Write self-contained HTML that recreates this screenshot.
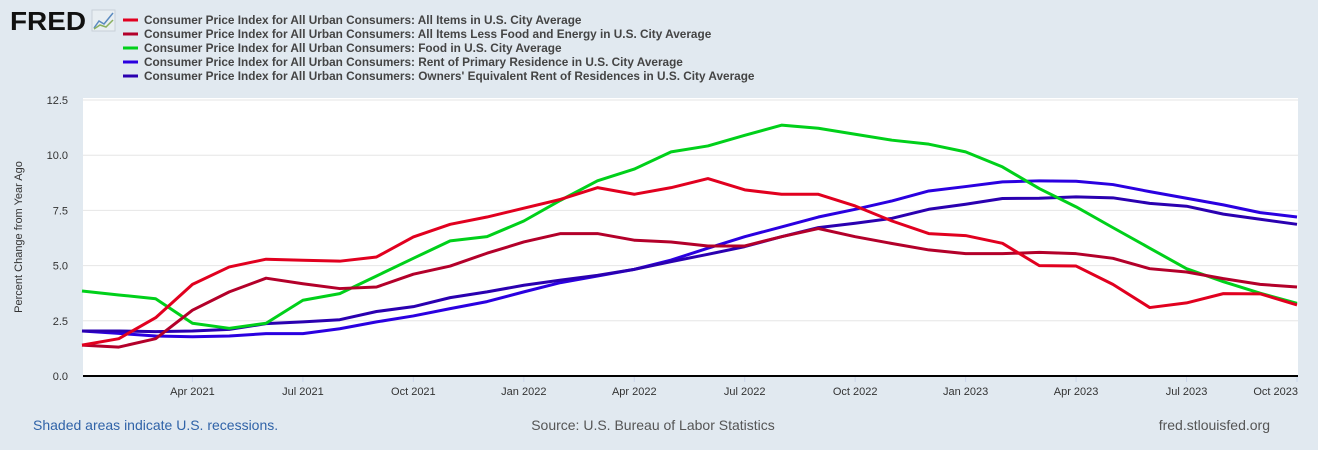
<!DOCTYPE html>
<html><head><meta charset="utf-8"><style>
body{margin:0;width:1318px;height:450px;background:#e1e9f0;font-family:"Liberation Sans",sans-serif;overflow:hidden}
svg{display:block}
</style></head><body>
<svg id="chart" width="1318" height="450" xmlns="http://www.w3.org/2000/svg">
<rect width="1318" height="450" fill="#e1e9f0"/>
<g>
<text x="10" y="30" font-size="26" font-weight="bold" fill="#111" textLength="76" lengthAdjust="spacingAndGlyphs">FRED</text>
<rect x="92" y="10" width="23" height="21" fill="#e8eef2" stroke="#c8d0d8"/>
<polyline points="94,28 99,21 104,24 113,13" fill="none" stroke="#5a8ac0" stroke-width="1.5"/>
<polyline points="94,29 100,25 106,27 113,20" fill="none" stroke="#8ab060" stroke-width="1.5"/>
</g>
<g id="legend"></g>
<rect x="83" y="98" width="1215" height="278" fill="#fff"/>
<g id="grid"></g>
<g id="xaxis"></g>
<g id="yaxis"></g>
<g id="series"></g>
<text x="22" y="237" font-size="11" fill="#333" text-anchor="middle" transform="rotate(-90 22 237)">Percent Change from Year Ago</text>
<text x="33" y="430" font-size="14" fill="#3063a8">Shaded areas indicate U.S. recessions.</text>
<text x="653" y="430" font-size="14" fill="#555" text-anchor="middle">Source: U.S. Bureau of Labor Statistics</text>
<text x="1270" y="430" font-size="14" fill="#555" text-anchor="end">fred.stlouisfed.org</text>
</svg>
<script>
const months = 34; // Jan 2021 .. Oct 2023
const allItems = [1.40,1.69,2.64,4.15,4.94,5.29,5.24,5.20,5.39,6.30,6.87,7.20,7.60,8.00,8.53,8.23,8.53,8.94,8.43,8.23,8.23,7.70,7.02,6.45,6.36,6.01,5.00,4.98,4.15,3.10,3.31,3.73,3.72,3.22];
const core = [1.40,1.31,1.69,2.98,3.81,4.43,4.18,3.96,4.03,4.61,4.98,5.56,6.07,6.45,6.45,6.15,6.07,5.89,5.89,6.31,6.68,6.31,6.00,5.71,5.54,5.54,5.60,5.54,5.33,4.86,4.71,4.41,4.15,4.03];
const food = [3.85,3.67,3.50,2.39,2.16,2.39,3.43,3.73,4.53,5.33,6.12,6.31,7.02,7.96,8.84,9.37,10.15,10.42,10.90,11.36,11.22,10.95,10.68,10.50,10.15,9.47,8.49,7.66,6.72,5.79,4.86,4.27,3.75,3.29];
const rent = [2.04,1.93,1.81,1.78,1.81,1.92,1.92,2.14,2.45,2.72,3.05,3.37,3.81,4.23,4.53,4.83,5.25,5.79,6.31,6.75,7.20,7.55,7.93,8.38,8.58,8.79,8.84,8.82,8.67,8.35,8.05,7.75,7.40,7.20];
const oer = [2.04,2.04,2.01,2.04,2.11,2.37,2.45,2.55,2.92,3.14,3.55,3.81,4.11,4.34,4.56,4.83,5.18,5.51,5.86,6.31,6.72,6.92,7.14,7.55,7.78,8.04,8.05,8.11,8.07,7.82,7.69,7.33,7.10,6.87];
const yTicks = [0,2.5,5,7.5,10,12.5];
const yTickLabels = ["0.0","2.5","5.0","7.5","10.0","12.5"];
const xTickIdx = [3,6,9,12,15,18,21,24,27,30,33];
const xTickLabels = ["Apr 2021","Jul 2021","Oct 2021","Jan 2022","Apr 2022","Jul 2022","Oct 2022","Jan 2023","Apr 2023","Jul 2023","Oct 2023"];
const seriesNames = ["Consumer Price Index for All Urban Consumers: All Items in U.S. City Average","Consumer Price Index for All Urban Consumers: All Items Less Food and Energy in U.S. City Average","Consumer Price Index for All Urban Consumers: Food in U.S. City Average","Consumer Price Index for All Urban Consumers: Rent of Primary Residence in U.S. City Average","Consumer Price Index for All Urban Consumers: Owners' Equivalent Rent of Residences in U.S. City Average"];

const NS="http://www.w3.org/2000/svg";
const X0=82,X1=1297,Y0=376,Y1=100;
const x=i=>X0+(X1-X0)*i/(months-1);
const y=v=>Y0-(Y0-Y1)*v/12.5;
function mk(t,a,p){const e=document.createElementNS(NS,t);for(const k in a)e.setAttribute(k,a[k]);p.appendChild(e);return e;}
const grid=document.getElementById('grid'),ya=document.getElementById('yaxis'),xa=document.getElementById('xaxis');
yTicks.forEach((v,i)=>{
  if(v>0){const l=mk('line',{x1:83,x2:1298,y1:y(v),y2:y(v),stroke:'#e6e6e6','stroke-width':1},grid);
  
  }
  const t=mk('text',{x:68,y:y(v)+4,'font-size':11,fill:'#333','text-anchor':'end'},ya);
  t.textContent=yTickLabels[i];
  
  
});
xTickIdx.forEach((m,i)=>{
  const tk=mk('line',{x1:x(m),x2:x(m),y1:376,y2:382,stroke:'#ccd6eb'},xa);
  
  
  const last=i===xTickIdx.length-1;
  const t=mk('text',{x:last?1298:x(m),y:395,'font-size':11,fill:'#333','text-anchor':last?'end':'middle'},xa);
  t.textContent=xTickLabels[i];
  
  
});
const cols=['#e1001f','#b3002a','#00d01a','#2a00e0','#2a00b0'];
const data=[allItems,core,food,rent,oer];
const names=['line-all-items','line-core','line-food','line-rent','line-oer'];
const ser=document.getElementById('series');
[3,4,2,1,0].forEach(k=>{
  const p=mk('polyline',{points:data[k].map((v,i)=>x(i)+','+y(v)).join(' '),fill:'none',stroke:cols[k],'stroke-width':3,'stroke-linejoin':'round'},ser);
  
  
});
const base=mk('line',{x1:83,x2:1298,y1:376,y2:376,stroke:'#000','stroke-width':2},xa);


const lg=document.getElementById('legend');
seriesNames.forEach((n,k)=>{
  const g=mk('g',{},lg);
  
  
  const yy=20+k*14;
  mk('line',{x1:123,x2:138,y1:yy,y2:yy,stroke:cols[k],'stroke-width':3},g);
  const t=mk('text',{x:144,y:yy+4,'font-size':11.8,'font-weight':'bold',fill:'#444'},g);
  t.textContent=n;
});
</script>
</body></html>
